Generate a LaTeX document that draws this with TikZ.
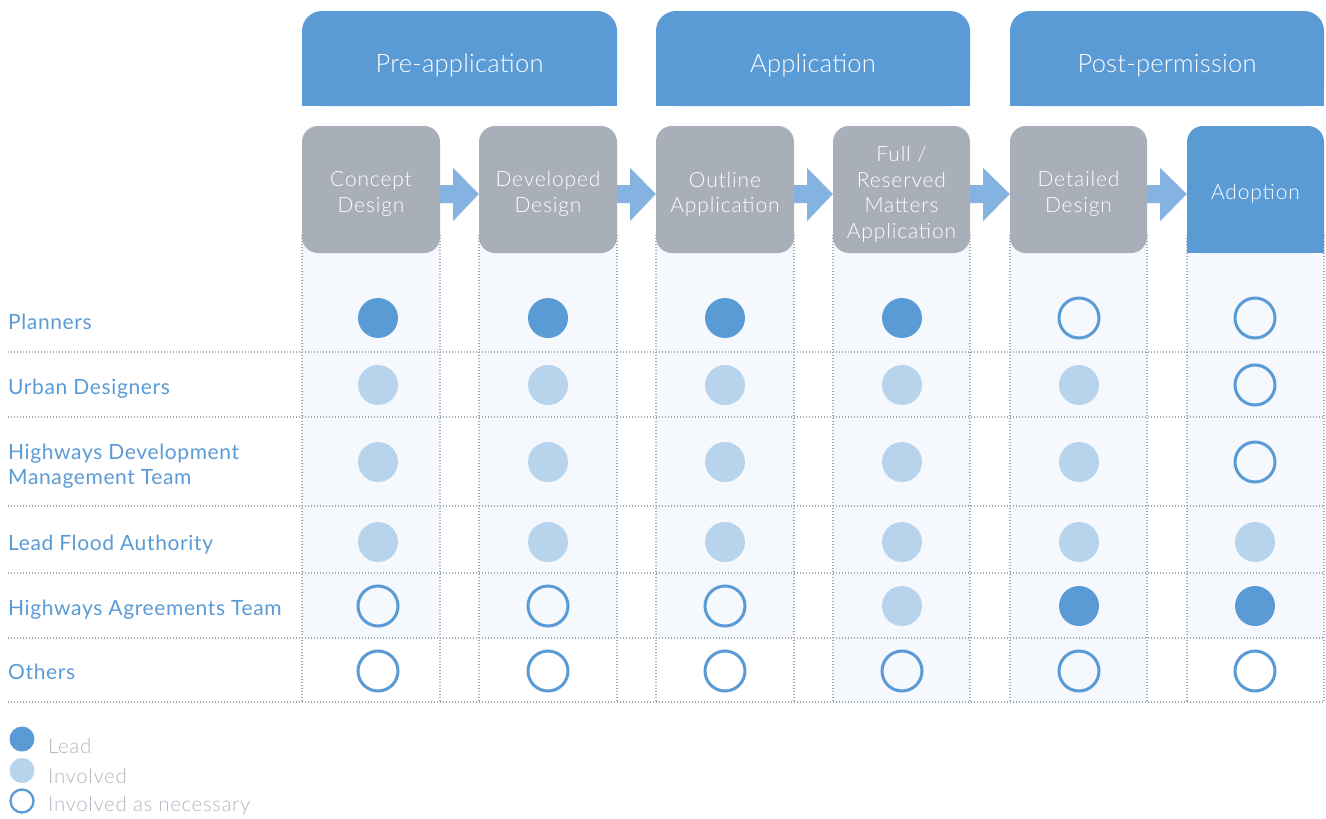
\documentclass[tikz,border=0pt]{standalone}
\usepackage{fontspec}
\setmainfont{Lato}
\newfontfamily\lightfont{Lato Light}
\newfontfamily\lightwide{Lato Light}[LetterSpace=4]
\newfontfamily\legwide{Lato Light}[LetterSpace=3]
\newfontfamily\labelwide{Lato}[LetterSpace=3]
\newfontfamily\headfont{Lato Light}[LetterSpace=1]
\usetikzlibrary{calc}
\definecolor{hblue}{HTML}{5B9BD5}
\definecolor{gbox}{HTML}{A8AFB8}
\definecolor{arrowc}{HTML}{84B3E2}
\definecolor{lcirc}{HTML}{B8D4EC}
\definecolor{colbg}{HTML}{F5F9FD}
\definecolor{dotc}{HTML}{A3A9B1}
\definecolor{legtxt}{HTML}{B0B7C0}
\tikzset{
  dotline/.style={draw=dotc, line width=1.1pt, dash pattern=on 1.1pt off 1.9pt},
  header/.style={fill=hblue, rounded corners=20pt, minimum width=315pt, minimum height=95pt, inner sep=0pt},
  stagebox/.style={fill=gbox, rounded corners=16pt, minimum width=138pt, minimum height=127pt, inner sep=0pt},
  adoptbox/.style={fill=hblue, rounded corners=16pt, minimum width=137pt, minimum height=127pt, inner sep=0pt},
  htext/.style={text=white, font=\headfont\fontsize{25.5}{30}\selectfont, anchor=base},
  btext/.style={text=white, font=\lightwide\fontsize{21}{25.5}\selectfont, align=center, anchor=center},
  rowlabel/.style={text=hblue, font=\labelwide\fontsize{21}{25}\selectfont, anchor=base west, inner sep=0pt, align=left},
  lead/.style={circle, fill=hblue, minimum size=40pt, inner sep=0pt},
  inv/.style={circle, fill=lcirc, minimum size=40pt, inner sep=0pt},
  nec/.style={circle, draw=hblue, line width=3pt, minimum size=40pt, inner sep=0pt},
  sleg/.style={circle, minimum size=25pt, inner sep=0pt},
  legtext/.style={text=legtxt, font=\legwide\fontsize{20.5}{24}\selectfont, anchor=base west, inner sep=0pt},
}
\newcommand\blockarrow[2]{\fill[arrowc] ($(#1.east)+(0,-4.5)$) -- ++(13,0) -- ++(0,-17) -- ($(#2.west)+(0,4.5)$) -- ($(#1.east)+(13,31.5)$) -- ++(0,-18) -- ++(-13,0) -- cycle;}
\begin{document}
\begin{tikzpicture}[x=1pt,y=-1pt]
\useasboundingbox[fill=white] (0,0) rectangle (1326,819);
% column backgrounds
\foreach \l/\r/\b in {302/440/638, 479/617/638, 656/794/638, 833/970/702, 1010/1147/702, 1187/1324/638}
  \fill[colbg] (\l,235) rectangle (\r,\b);
% horizontal dotted lines
\foreach \y in {352,417,506,573,638,702}
  \draw[dotline] (8,\y) -- (1324,\y);
% vertical dotted lines
\foreach \x in {302,440,479,617,656,794,833,970,1010,1147,1187,1324}
  \draw[dotline] (\x,235) -- (\x,702);
% header boxes
\fill[hblue] (302,60) rectangle (617,106);
\fill[hblue] (656,60) rectangle (970,106);
\fill[hblue] (1010,60) rectangle (1324,106);
\node[header] (hpre) at (459.5,58.5) {};
\node[header, minimum width=314pt] (happ) at (813,58.5) {};
\node[header, minimum width=314pt] (hpost) at (1167,58.5) {};
\node[htext] (tpre) at (459.5,72) {Pre-application};
\node[htext] (tapp) at (813,72) {Application};
\node[htext] (tpost) at (1167,72) {Post-permission};
% stage boxes
\node[stagebox] (c1) at (371,189.5) {};
\node[stagebox] (c2) at (548,189.5) {};
\node[stagebox] (c3) at (725,189.5) {};
\node[stagebox, minimum width=137pt] (c4) at (901.5,189.5) {};
\node[stagebox, minimum width=137pt] (c5) at (1078.5,189.5) {};
\fill[hblue] (1187,190) rectangle (1324,253);
\node[adoptbox] (c6) at (1255.5,189.5) {};
\node[btext] (t1) at (371,194) {Concept\\Design};
\node[btext] (t2) at (548,194) {Developed\\Design};
\node[btext] (t3) at (725,194) {Outline\\Application};
\node[btext] (t4) at (901.5,194) {Full /\\Reserved\\Matters\\Application};
\node[btext] (t5) at (1078.5,194) {Detailed\\Design};
\node[btext] (t6) at (1255.5,194) {Adoption};
% arrows
\blockarrow{c1}{c2}
\blockarrow{c2}{c3}
\blockarrow{c3}{c4}
\blockarrow{c4}{c5}
\blockarrow{c5}{c6}
% row labels
\node[rowlabel] (r1) at (8,329) {Planners};
\node[rowlabel] (r2) at (8,394) {Urban Designers};
\node[rowlabel] (r3) at (8,459) {Highways Development};
\node[rowlabel] (r3b) at (8,484) {Management Team};
\node[rowlabel] (r4) at (8,550) {Lead Flood Authority};
\node[rowlabel] (r5) at (8,615) {Highways Agreements Team};
\node[rowlabel] (r6) at (8,679) {Others};
% circles
\foreach \y/\row/\types in {318/1/{lead,lead,lead,lead,nec,nec},
                            385/2/{inv,inv,inv,inv,inv,nec},
                            462/3/{inv,inv,inv,inv,inv,nec},
                            542/4/{inv,inv,inv,inv,inv,inv},
                            606/5/{nec,nec,nec,inv,lead,lead},
                            671/6/{nec,nec,nec,nec,nec,nec}} {
  \foreach \t [count=\c] in \types {
    \pgfmathsetmacro\cx{{378,548,725,902,1079,1255}[\c-1]}
    \node[\t] (m\row-\c) at (\cx,\y) {};
  }
}
% legend
\node[sleg, fill=hblue] (l1) at (22,739) {};
\node[sleg, fill=lcirc] (l2) at (22,770.5) {};
\node[sleg, draw=hblue, line width=2.3pt, minimum size=23pt] (l3) at (22,801) {};
\node[legtext] (lt1) at (48,753) {Lead};
\node[legtext] (lt2) at (48,783) {Involved};
\node[legtext] (lt3) at (48,811) {Involved as necessary};
\end{tikzpicture}
\end{document}
